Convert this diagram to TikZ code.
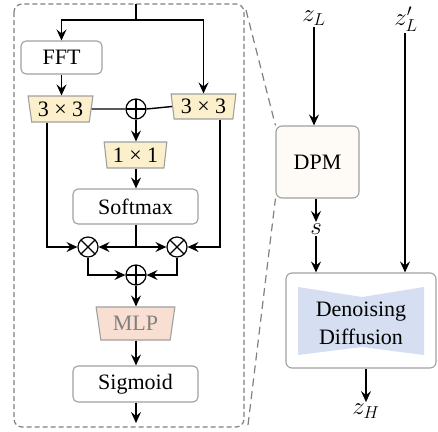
\documentclass[tikz,border=0pt]{standalone}
\usepackage{fontspec}
\setmainfont{Liberation Serif}
\usetikzlibrary{arrows.meta,shapes.geometric}
\definecolor{bordergray}{HTML}{A0A0A0}
\definecolor{dashgray}{HTML}{808080}
\definecolor{convfill}{HTML}{FCEFCB}
\definecolor{mlpfill}{HTML}{F8DFD1}
\definecolor{dpmfill}{HTML}{FEFAF6}
\definecolor{bowfill}{HTML}{D5DFF1}
\begin{document}
\begin{tikzpicture}[x=1pt,y=-1pt,
  font=\fontsize{22}{26}\selectfont,
  line width=1.4pt,
  arr/.style={-{Stealth[length=11pt,width=10pt,inset=4pt]}},
  plainbox/.style={draw=bordergray,line width=1.1pt,rounded corners=5pt,inner sep=0pt},
  conv/.style={trapezium,trapezium stretches=true,shape border rotate=180,draw=bordergray,line width=1.1pt,fill=convfill,inner sep=0pt},
  opplus/.style={circle,draw,minimum size=20pt,inner sep=0pt,line width=1.2pt,
    path picture={\draw[line width=1.2pt] (path picture bounding box.north) -- (path picture bounding box.south) (path picture bounding box.west) -- (path picture bounding box.east);}},
  optimes/.style={circle,draw,minimum size=20pt,inner sep=0pt,line width=1.2pt,
    path picture={\draw[line width=1.2pt] (path picture bounding box.north west) -- (path picture bounding box.south east) (path picture bounding box.south west) -- (path picture bounding box.north east);}},
  lbl/.style={inner sep=1pt,font=\fontsize{26}{30}\selectfont}
]
\useasboundingbox (0,0) rectangle (438,431);
% outer dashed box
\draw[dashgray,dashed,dash pattern=on 5pt off 3pt,line width=1.2pt,rounded corners=8pt] (14,4) rectangle (244,427);

% nodes of the module
\node[plainbox,minimum width=81pt,minimum height=33pt] (fft) at (61.5,57.5) {FFT};
\node[conv,minimum width=65pt,minimum height=26pt,trapezium left angle=79,trapezium right angle=79] (lt) at (60.5,109) {3 × 3};
\node[conv,minimum width=65pt,minimum height=25pt,trapezium left angle=81,trapezium right angle=81] (rt) at (203.5,106.5) {3 × 3};
\node[opplus] (p1) at (136,109) {};
\node[conv,minimum width=63pt,minimum height=26pt,trapezium left angle=81,trapezium right angle=81] (t11) at (135.5,155) {1 × 1};
\node[plainbox,minimum width=125pt,minimum height=35pt] (soft) at (135.5,206.5) {Softmax};
\node[optimes] (m1) at (88,247) {};
\node[optimes] (m2) at (177,247) {};
\node[opplus] (p2) at (136,275) {};
\node[trapezium,trapezium stretches=true,shape border rotate=180,draw=bordergray,line width=1.1pt,fill=mlpfill,text=dashgray,inner sep=0pt,minimum width=79pt,minimum height=33pt,trapezium left angle=78,trapezium right angle=78] (mlp) at (135.5,323.5) {MLP};
\node[plainbox,minimum width=125pt,minimum height=36pt] (sig) at (135.5,384) {Sigmoid};

\coordinate (in) at (136,4);
\coordinate (split) at (136,20);
\coordinate (out) at (136,423);

% connectors of the module
\draw (in) -- (split);
\draw[arr] (split) -| (fft.north);
\draw[arr] (split) -| (rt.north);
\draw[arr] (fft.south) -- (lt.north -| fft.south);
\draw (lt.east) -- (p1.west);
\draw (p1.east) -- (rt.west);
\draw[arr] (p1.south) -- (t11.north -| p1.south);
\draw[arr] (t11.south -| p1.south) -- (soft.north -| p1.south);
\draw (soft.south -| p1.south) -- (136,247);
\draw[arr] (136,247) -- (m1.east);
\draw[arr] (136,247) -- (m2.west);
\draw[arr] (lt.south -| 47,0) -- (47,247) -- (m1.west);
\draw[arr] (rt.south -| 220,0) -- (220,247) -- (m2.east);
\draw[arr] (m1.south) |- (p2.west);
\draw[arr] (m2.south) |- (p2.east);
\draw[arr] (p2.south) -- (mlp.north -| p2.south);
\draw[arr] (mlp.south -| p2.south) -- (sig.north -| p2.south);
\draw[arr] (sig.south -| p2.south) -- (out);

% right side
\node[lbl] (zl) at (314,18) {$z_L$};
\node[lbl] (zlp) at (406,19) {$z_L'$};
\node[draw=bordergray,line width=1.1pt,rounded corners=6pt,fill=dpmfill,minimum width=83pt,minimum height=72pt] (dpm) at (317.5,162) {DPM};
\node[lbl] (s) at (316,229) {$s$};
\node[draw=bordergray,line width=1.1pt,rounded corners=6pt,fill=white,minimum width=150pt,minimum height=95pt] (den) at (361,320.5) {};
\fill[bowfill] (298,287) -- (362,297) -- (424,287) -- (424,355) -- (362,347) -- (298,355) -- cycle;
\node[align=center,font=\fontsize{22}{28}\selectfont] (dentext) at (361,323) {Denoising\\Diffusion};
\node[lbl] (zh) at (366,411) {$z_H$};

\draw[arr] (zl.south) -- (zl.south |- dpm.north);
\draw[arr] (dpm.south -| s) -- (s.north);
\draw[arr] (s.south) -- (s.south |- den.north);
\draw[arr] (zlp.south -| 405,0) -- (den.north -| 405,0);
\draw[arr] (den.south -| zh) -- (zh.north);

% zoom lines
\draw[dashgray,dashed,dash pattern=on 8pt off 5pt,line width=1.2pt] (246,10) -- (dpm.north west);
\draw[dashgray,dashed,dash pattern=on 8pt off 5pt,line width=1.2pt] (248,425) -- (dpm.south west);
\end{tikzpicture}
\end{document}
